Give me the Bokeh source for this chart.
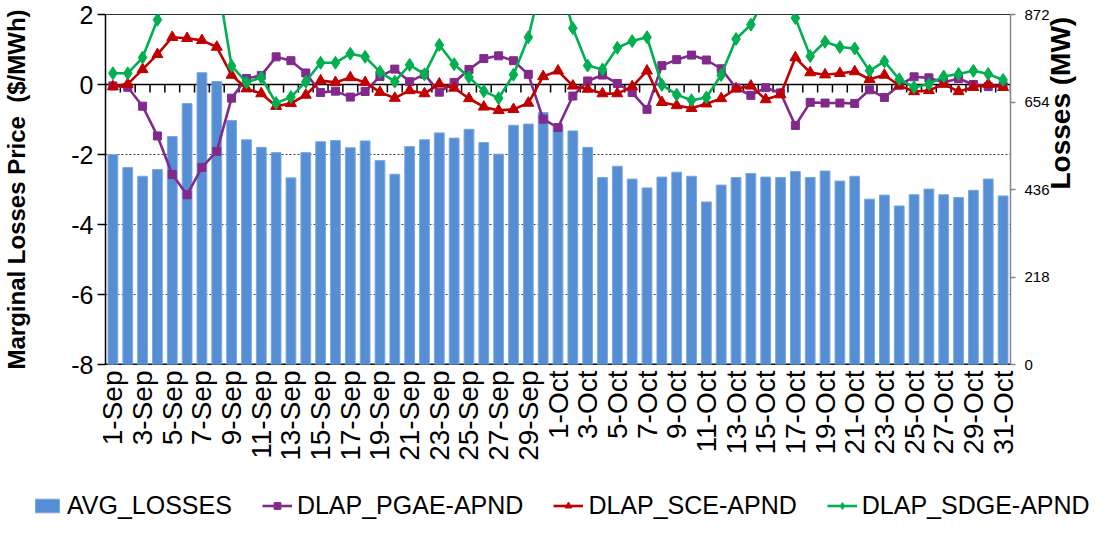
import math
from bokeh.plotting import figure
from bokeh.layouts import column
from bokeh.models import (Range1d, LinearAxis, FixedTicker, Span, Legend, LegendItem,
                          ColumnDataSource, Plot)
from bokeh.embed import file_html
from bokeh.resources import INLINE

# ---------------- data ----------------
days = ["1-Sep", "2-Sep", "3-Sep", "4-Sep", "5-Sep", "6-Sep", "7-Sep", "8-Sep", "9-Sep", "10-Sep",
        "11-Sep", "12-Sep", "13-Sep", "14-Sep", "15-Sep", "16-Sep", "17-Sep", "18-Sep", "19-Sep", "20-Sep",
        "21-Sep", "22-Sep", "23-Sep", "24-Sep", "25-Sep", "26-Sep", "27-Sep", "28-Sep", "29-Sep", "30-Sep",
        "1-Oct", "2-Oct", "3-Oct", "4-Oct", "5-Oct", "6-Oct", "7-Oct", "8-Oct", "9-Oct", "10-Oct",
        "11-Oct", "12-Oct", "13-Oct", "14-Oct", "15-Oct", "16-Oct", "17-Oct", "18-Oct", "19-Oct", "20-Oct",
        "21-Oct", "22-Oct", "23-Oct", "24-Oct", "25-Oct", "26-Oct", "27-Oct", "28-Oct", "29-Oct", "30-Oct",
        "31-Oct"]

avg_losses = [523, 491, 469, 486, 568, 650, 727, 705, 608, 560,
              541, 528, 465, 528, 555, 558, 540, 557, 508, 474,
              543, 560, 577, 564, 586, 553, 524, 596, 599, 628,
              595, 582, 541, 466, 494, 462, 440, 467, 479, 469,
              405, 447, 466, 476, 467, 466, 481, 466, 482, 457,
              469, 412, 422, 395, 423, 437, 423, 416, 434, 462, 420]

pgae = [-0.04, -0.08, -0.62, -1.47, -2.57, -3.15, -2.37, -1.91, -0.39, 0.17,
        0.26, 0.79, 0.68, 0.33, -0.23, -0.19, -0.36, -0.20, 0.23, 0.44,
        0.08, 0.29, -0.22, 0.06, 0.43, 0.74, 0.82, 0.68, 0.29, -0.99,
        -1.23, -0.33, 0.10, 0.27, 0.03, -0.23, -0.71, 0.54, 0.71, 0.84,
        0.70, 0.45, -0.10, -0.31, -0.09, -0.24, -1.17, -0.51, -0.53, -0.53,
        -0.54, -0.15, -0.37, -0.02, 0.22, 0.19, 0.06, 0.17, 0.00, -0.06, -0.04]

sce = [-0.06, 0.01, 0.43, 0.86, 1.35, 1.32, 1.26, 1.07, 0.27, -0.12,
       -0.26, -0.62, -0.54, -0.30, 0.11, 0.06, 0.20, 0.06, -0.22, -0.39,
       -0.17, -0.26, 0.02, -0.10, -0.40, -0.64, -0.74, -0.71, -0.53, 0.23,
       0.39, -0.04, -0.13, -0.26, -0.26, -0.06, 0.39, -0.51, -0.60, -0.68,
       -0.55, -0.40, -0.12, -0.04, -0.43, -0.29, 0.77, 0.34, 0.28, 0.32,
       0.37, 0.15, 0.27, -0.03, -0.20, -0.17, 0.01, -0.20, -0.08, 0.01, -0.08]

sdge = [0.32, 0.32, 0.77, 1.85, 3.3, 3.8, 3.6, 3.1, 0.53, 0.06,
        0.20, -0.53, -0.36, 0.08, 0.62, 0.62, 0.88, 0.79, 0.36, 0.08,
        0.56, 0.29, 1.13, 0.58, 0.21, -0.19, -0.39, 0.28, 1.35, 3.1,
        3.2, 1.61, 0.54, 0.43, 1.05, 1.24, 1.35, -0.01, -0.29, -0.45,
        -0.37, 0.27, 1.30, 1.71, 2.5, 2.9, 1.90, 0.81, 1.22, 1.07,
        1.03, 0.39, 0.66, 0.15, -0.08, 0.01, 0.23, 0.30, 0.39, 0.30, 0.13]

series_names = ["AVG_LOSSES", "DLAP_PGAE-APND", "DLAP_SCE-APND", "DLAP_SDGE-APND"]
price_ticks = [-8, -6, -4, -2, 0, 2]
loss_ticks = [0, 218, 436, 654, 872]

# ---------------- styling ----------------
FONT = "Liberation Sans"
BAR = "#558ED5"
BAR_EDGE = "#7EA8DC"
PURPLE = "#812A8C"
RED = "#C00000"
GREEN = "#00B050"

n = len(days)
xs = list(range(n))
src = ColumnDataSource(dict(x=xs, day=days, loss=avg_losses, pgae=pgae, sce=sce, sdge=sdge))

p = figure(width=1100, height=470, x_range=Range1d(-0.5, n - 0.5),
           y_range=Range1d(price_ticks[0], price_ticks[-1]),
           output_backend="svg", toolbar_location=None,
           min_border_left=102, min_border_right=90, min_border_top=14, min_border_bottom=106)
p.extra_y_ranges = {"mw": Range1d(loss_ticks[0], loss_ticks[-1])}
p.background_fill_color = "white"
p.border_fill_color = "white"
p.outline_line_color = "#303030"
p.outline_line_width = 1

# grid
p.xgrid.visible = False
p.ygrid.ticker = FixedTicker(ticks=[t for t in price_ticks if t not in (0, price_ticks[0], price_ticks[-1])])
p.ygrid.grid_line_color = "#404040"
p.ygrid.grid_line_dash = "2 2"
p.ygrid.grid_line_width = 1

# bottom frame line (under bars)
p.add_layout(Span(location=price_ticks[0], dimension="width", line_color="black",
                  line_width=2, level="underlay"))
# zero axis line with category tick marks
p.add_layout(Span(location=0, dimension="width", line_color="black",
                  line_width=1.5, level="underlay"))
bounds = [i - 0.5 for i in range(n + 1)]
p.segment(x0=bounds, y0=[0] * len(bounds), x1=bounds, y1=[-0.23] * len(bounds),
          line_color="black", line_width=1.5, level="underlay")

# bars
p.vbar(x="x", top="loss", bottom=0, width=0.66, source=src, y_range_name="mw",
       fill_color=BAR, line_color=BAR_EDGE, line_width=1)

# lines
p.line("x", "pgae", source=src, line_color=PURPLE, line_width=2.6)
p.scatter("x", "pgae", source=src, marker="square", size=8, fill_color=PURPLE, line_color=PURPLE)
p.line("x", "sce", source=src, line_color=RED, line_width=2.6)
p.scatter("x", "sce", source=src, marker="triangle", size=11, fill_color=RED, line_color=RED)
p.line("x", "sdge", source=src, line_color=GREEN, line_width=2.6)
p.scatter("x", "sdge", source=src, marker="diamond", size=13, fill_color=GREEN, line_color=GREEN)

# x axis
xa = p.xaxis[0]
xa.ticker = FixedTicker(ticks=xs[::2])
xa.major_label_overrides = {i: days[i] for i in xs[::2]}
xa.major_label_orientation = math.pi / 2
xa.major_label_standoff = 6
xa.major_tick_out = 0
xa.minor_tick_out = 0
xa.major_tick_line_color = None
xa.minor_tick_line_color = None
xa.axis_line_color = None
xa.major_label_text_font = FONT
xa.major_label_text_font_size = "28px"
xa.major_label_text_color = "black"

# left axis
ya = p.yaxis[0]
ya.ticker = FixedTicker(ticks=price_ticks)
ya.major_label_overrides = {t: str(t) for t in price_ticks}
ya.axis_line_color = "black"
ya.axis_line_width = 1.5
ya.major_tick_line_color = "black"
ya.major_tick_line_width = 1.5
ya.major_tick_out = 8
ya.major_tick_in = 0
ya.minor_tick_out = 0
ya.minor_tick_line_color = None
ya.major_label_standoff = 4
ya.major_label_text_font = FONT
ya.major_label_text_font_size = "25px"
ya.major_label_text_color = "black"
ya.axis_label = "Marginal Losses Price\u00a0 ($/MWh)"
ya.axis_label_text_font = FONT
ya.axis_label_text_font_size = "24px"
ya.axis_label_text_font_style = "bold"
ya.axis_label_text_color = "black"
ya.axis_label_standoff = 38

# right axis
ra = LinearAxis(y_range_name="mw", ticker=FixedTicker(ticks=loss_ticks))
ra.axis_line_color = "#868686"
ra.axis_line_width = 1.5
ra.major_tick_line_color = "#868686"
ra.major_tick_line_width = 1.5
ra.major_tick_out = 5
ra.major_tick_in = 0
ra.minor_tick_out = 0
ra.minor_tick_line_color = None
ra.major_label_standoff = 9
ra.major_label_text_font = FONT
ra.major_label_text_font_size = "15px"
ra.major_label_text_color = "black"
ra.axis_label = "Losses (MW)"
ra.axis_label_text_font = FONT
ra.axis_label_text_font_size = "28px"
ra.axis_label_text_font_style = "bold"
ra.axis_label_text_color = "black"
ra.axis_label_standoff = 8
if "axis_label_orientation" in LinearAxis.properties():
    ra.axis_label_orientation = math.pi / 2
p.add_layout(ra, "right")

# ---------------- legend strip (separate figure so it is not clipped) ----------------
# its renderers share the chart data but sit outside this strip's ranges, so only the
# legend entries are visible
lf = figure(width=1100, height=50, x_range=Range1d(-3, -2), y_range=Range1d(-30, -20),
            output_backend="svg", toolbar_location=None,
            x_axis_location=None, y_axis_location=None, min_border=0)
if "frame_align" in Plot.properties():
    lf.frame_align = False
    p.frame_align = False
lf.grid.visible = False
lf.outline_line_color = None
lf.background_fill_color = "white"
lf.border_fill_color = "white"
lb = lf.vbar(x="x", top="pgae", width=0.5, source=src, fill_color=BAR, line_color=BAR_EDGE)
l1 = lf.line("x", "pgae", source=src, line_color=PURPLE, line_width=2.6)
m1 = lf.scatter("x", "pgae", source=src, marker="square", size=6, fill_color=PURPLE, line_color=PURPLE)
l2 = lf.line("x", "sce", source=src, line_color=RED, line_width=2.6)
m2 = lf.scatter("x", "sce", source=src, marker="triangle", size=8, fill_color=RED, line_color=RED)
l3 = lf.line("x", "sdge", source=src, line_color=GREEN, line_width=2.6)
m3 = lf.scatter("x", "sdge", source=src, marker="diamond", size=9, fill_color=GREEN, line_color=GREEN)

legend = Legend(items=[
    LegendItem(label=series_names[0], renderers=[lb]),
    LegendItem(label=series_names[1], renderers=[l1, m1]),
    LegendItem(label=series_names[2], renderers=[l2, m2]),
    LegendItem(label=series_names[3], renderers=[l3, m3]),
], orientation="horizontal", location=(32, 0))
legend.label_text_font = FONT
legend.label_text_font_size = "25px"
legend.label_text_color = "black"
legend.glyph_width = 30
legend.glyph_height = 17
legend.label_standoff = 5
legend.spacing = 30
legend.padding = 0
legend.margin = 0
legend.border_line_color = None
legend.background_fill_alpha = 0
lf.add_layout(legend)

layout = column(p, lf, spacing=0)
open("out.html", "w").write(file_html(layout, INLINE))
